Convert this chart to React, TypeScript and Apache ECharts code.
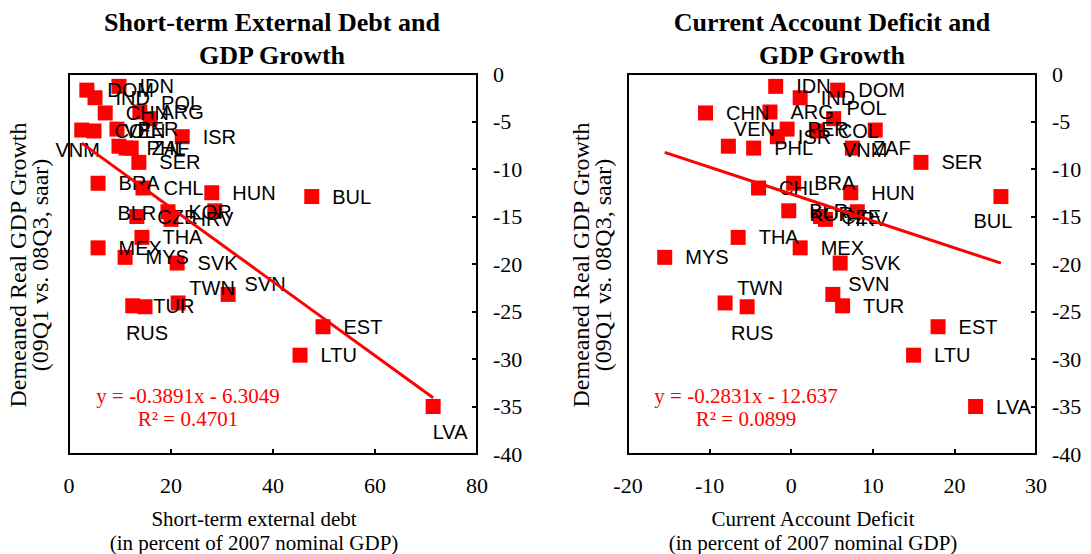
import React, { useEffect, useRef } from "react";
import * as echarts from "echarts";

// ---- data ----
const countries = ["IDN","DOM","IND","CHN","ARG","POL","VNM","COL","PER","ISR","VEN","PHL","ZAF","SER","BRA","CHL","HUN","BUL","BLR","KOR","CZE","HRV","THA","MEX","MYS","SVK","SVN","TWN","TUR","RUS","EST","LTU","LVA"];
const gdpGrowth = [-1.3,-1.7,-2.5,-4.1,-4.0,-4.7,-5.9,-6.0,-5.8,-6.6,-7.6,-7.8,-7.8,-9.3,-11.5,-12.0,-12.5,-12.9,-14.4,-14.5,-15.0,-15.3,-17.2,-18.3,-19.3,-19.9,-23.2,-24.1,-24.4,-24.5,-26.6,-29.6,-35.0];
const shortTermDebt = [9.8,3.5,5.1,7.1,13.9,15.9,2.5,4.9,9.4,22.2,9.8,11.2,12.2,13.7,5.7,14.5,28.0,47.6,28.6,19.4,13.3,20.0,14.3,5.7,11.0,21.2,31.2,21.4,12.5,14.9,49.8,45.3,71.4];
const currentAccountDeficit = [-1.9,5.7,1.1,-10.5,-2.6,5.2,10.3,3.2,-0.5,-1.7,-7.7,-4.6,7.5,15.9,0.3,-4.0,7.3,25.7,-0.3,8.1,3.6,4.2,-6.5,1.1,-15.5,6.0,5.1,-8.1,6.3,-5.4,18.0,15.0,22.6];
const leftTrend = { slope: -0.3891, intercept: -6.3049, r2: "0.4701" };
const rightTrend = { slope: -0.2831, intercept: -12.637, r2: "0.0899" };
const yTickMin = -40;
const yTickMax = 0;

// ---- label placement (style) ----
const leftLabelShift: Record<string, number[]> = {
  VNM: [-4, 20], VEN: [26, -15], POL: [31, -16], BLR: [-78, 2],
  TWN: [34, -15], SVN: [37, -10], RUS: [2, 26], LVA: [17, 25],
};
const rightLabelShift: Record<string, number[]> = {
  VNM: [-10, 20], VEN: [26, -17], POL: [33, -11], KOR: [-26, 2],
  TWN: [35, -15], SVN: [36, -10], RUS: [5, 26], BUL: [-8, 24],
};

const SERIF = "'Liberation Serif', 'Times New Roman', serif";
const SANS = "'Liberation Sans', Arial, sans-serif";
const RED = "#ff0000";

function buildPoints(xs: number[], shifts: Record<string, number[]>) {
  return countries.map((c, i) => {
    const s = shifts[c];
    return {
      name: c,
      value: [xs[i], gdpGrowth[i]],
      label: s ? { position: "inside", offset: s } : { position: "right", distance: 13 },
    };
  });
}

function trendLine(xs: number[], t: { slope: number; intercept: number }) {
  const lo = Math.min(...xs);
  const hi = Math.max(...xs);
  return [
    [lo, t.slope * lo + t.intercept],
    [hi, t.slope * hi + t.intercept],
  ];
}

function xAxisCfg(gridIndex: number, min: number, max: number, interval: number, name: string) {
  return {
    gridIndex,
    type: "value",
    min,
    max,
    interval,
    name,
    nameLocation: "middle",
    nameGap: 53,
    nameTextStyle: { fontFamily: SERIF, fontSize: 21, lineHeight: 24, color: "#000", padding: [0, 38, 0, 0] },
    axisLine: { show: true, onZero: false, lineStyle: { color: "#000", width: 2 } },
    axisTick: { show: true, inside: true, length: 5, lineStyle: { color: "#000", width: 2 } },
    axisLabel: { fontFamily: SERIF, fontSize: 22, color: "#000", margin: 20 },
    splitLine: { show: false },
  };
}

function yAxisCfg(gridIndex: number) {
  return {
    gridIndex,
    type: "value",
    position: "right",
    min: yTickMin,
    max: yTickMax,
    interval: 5,
    axisLine: { show: true, onZero: false, lineStyle: { color: "#000", width: 2 } },
    axisTick: { show: true, inside: true, length: 5, lineStyle: { color: "#000", width: 2 } },
    axisLabel: { fontFamily: SERIF, fontSize: 22, color: "#000", margin: 16 },
    splitLine: { show: false },
  };
}

export default function App() {
  const ref = useRef<HTMLDivElement>(null);
  useEffect(() => {
    if (!ref.current) return;
    const chart = echarts.init(ref.current, undefined, { renderer: "svg" });
    const labelBase = {
      show: true,
      formatter: "{b}",
      color: "#000",
      opacity: 1,
      fontFamily: SANS,
      fontSize: 20,
    };
    const scatterBase = {
      type: "scatter",
      symbol: "rect",
      symbolSize: 15,
      itemStyle: { color: RED, opacity: 1 },
      emphasis: { disabled: true },
      label: labelBase,
      z: 2,
    };
    const gridBase = {
      top: 74,
      width: 408,
      height: 380,
      show: true,
      borderColor: "#000",
      borderWidth: 2,
      containLabel: false,
      outerBoundsMode: "none",
    };
    const option: any = {
      animation: false,
      backgroundColor: "#fff",
      grid: [
        { ...gridBase, left: 69 },
        { ...gridBase, left: 628 },
      ],
      xAxis: [
        xAxisCfg(0, 0, 80, 20, "Short-term external debt\n(in percent of 2007 nominal GDP)"),
        xAxisCfg(1, -20, 30, 10, "Current Account Deficit\n(in percent of 2007 nominal GDP)"),
      ],
      yAxis: [yAxisCfg(0), yAxisCfg(1)],
      series: [
        { ...scatterBase, xAxisIndex: 0, yAxisIndex: 0, data: buildPoints(shortTermDebt, leftLabelShift) },
        { ...scatterBase, xAxisIndex: 1, yAxisIndex: 1, data: buildPoints(currentAccountDeficit, rightLabelShift) },
        {
          type: "line",
          xAxisIndex: 0,
          yAxisIndex: 0,
          symbol: "none",
          lineStyle: { color: RED, width: 3 },
          data: trendLine(shortTermDebt, leftTrend),
          z: 3,
        },
        {
          type: "line",
          xAxisIndex: 1,
          yAxisIndex: 1,
          symbol: "none",
          lineStyle: { color: RED, width: 3 },
          data: trendLine(currentAccountDeficit, rightTrend),
          z: 3,
        },
      ],
      graphic: [
        {
          type: "text", x: 272, y: 39, z: 10,
          style: { text: "Short-term External Debt and\nGDP Growth", fill: "#000", font: `bold 26px ${SERIF}`, lineHeight: 33, align: "center", verticalAlign: "middle" },
        },
        {
          type: "text", x: 832, y: 39, z: 10,
          style: { text: "Current Account Deficit and\nGDP Growth", fill: "#000", font: `bold 26px ${SERIF}`, lineHeight: 33, align: "center", verticalAlign: "middle" },
        },
        {
          type: "text", x: 29, y: 265, rotation: Math.PI / 2, z: 10,
          style: { text: "Demeaned Real GDP Growth\n(09Q1 vs. 08Q3, saar)", fill: "#000", font: `24px ${SERIF}`, lineHeight: 22, align: "center", verticalAlign: "middle" },
        },
        {
          type: "text", x: 592, y: 265, rotation: Math.PI / 2, z: 10,
          style: { text: "Demeaned Real GDP Growth\n(09Q1 vs. 08Q3, saar)", fill: "#000", font: `24px ${SERIF}`, lineHeight: 22, align: "center", verticalAlign: "middle" },
        },
        {
          type: "text", x: 188, y: 407, z: 10,
          style: { text: `y = ${leftTrend.slope}x - ${Math.abs(leftTrend.intercept)}\nR² = ${leftTrend.r2}`, fill: RED, font: `21px ${SERIF}`, lineHeight: 23, align: "center", verticalAlign: "middle" },
        },
        {
          type: "text", x: 746, y: 407, z: 10,
          style: { text: `y = ${rightTrend.slope}x - ${Math.abs(rightTrend.intercept)}\nR² = ${rightTrend.r2}`, fill: RED, font: `21px ${SERIF}`, lineHeight: 23, align: "center", verticalAlign: "middle" },
        },
      ],
    };
    chart.setOption(option);
    return () => chart.dispose();
  }, []);
  return (
    <div
      ref={ref}
      style={{ position: "absolute", left: 0, top: 0, width: 1091, height: 554 }}
    />
  );
}
